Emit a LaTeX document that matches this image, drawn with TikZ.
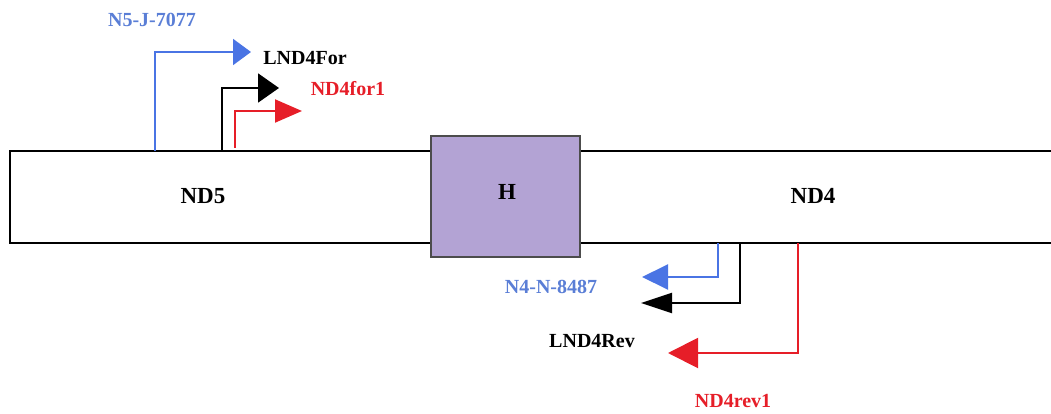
\documentclass[tikz,border=0pt]{standalone}
\usepackage{fontspec}
\setmainfont{Liberation Serif}
\usetikzlibrary{arrows.meta}
\definecolor{pblue}{HTML}{4A74E4}
\definecolor{lblue}{HTML}{5A7ED6}
\definecolor{pred}{HTML}{E61E28}
\definecolor{hpurple}{HTML}{B3A3D4}
\tikzset{
  primer/.style={line width=2pt},
  lbl/.style={font=\fontsize{20}{22}\selectfont\bfseries, inner sep=0pt},
  seg/.style={font=\fontsize{23}{25}\selectfont\bfseries, inner sep=0pt},
}
\begin{document}
\begin{tikzpicture}[x=1pt,y=-1pt]
\useasboundingbox (0,0) rectangle (1051,414);
% bar
\draw[line width=1.5pt] (1052,151) -- (10,151) -- (10,243) -- (1052,243);
\node[draw=black!70, line width=1.2pt, fill=hpurple, minimum width=149pt, minimum height=121pt, inner sep=0pt] (H) at (505.5,196.5) {};
\node[seg] (nd5) at (203,196) {ND5};
\node[seg] (hl) at (507,192) {H};
\node[seg] (nd4) at (813,196) {ND4};
% anchor coordinates
\coordinate (bf) at (155,151);
\coordinate (kf) at (222,151);
\coordinate (rf) at (235,148);
\coordinate (bft) at (251,52);
\coordinate (kft) at (279,88);
\coordinate (rft) at (302,111);
\coordinate (br) at (718,243);
\coordinate (kr) at (740,243);
\coordinate (rr) at (798,243);
\coordinate (brt) at (642,277);
\coordinate (krt) at (641,303);
\coordinate (rrt) at (668,353);
% forward primers
\draw[primer, pblue, -{Triangle[length=18pt,width=26pt]}] (bf) |- (bft);
\draw[primer, black, -{Triangle[length=21pt,width=29pt]}] (kf) |- (kft);
\draw[primer, pred, -{Triangle[length=27pt,width=23pt]}] (rf) |- (rft);
% reverse primers
\draw[primer, pblue, -{Triangle[length=26pt,width=25pt]}] (br) |- (brt);
\draw[primer, black, -{Triangle[length=31pt,width=20pt]}] (kr) |- (krt);
\draw[primer, pred, -{Triangle[length=30pt,width=30pt]}] (rr) |- (rrt);
% labels
\node[lbl, lblue] (l1) at (152,20) {N5-J-7077};
\node[lbl, black] (l2) at (305,58) {LND4For};
\node[lbl, pred] (l3) at (348,89) {ND4for1};
\node[lbl, lblue] (l4) at (551,287) {N4-N-8487};
\node[lbl, black] (l5) at (592,341) {LND4Rev};
\node[lbl, pred] (l6) at (733,401) {ND4rev1};
\end{tikzpicture}
\end{document}
